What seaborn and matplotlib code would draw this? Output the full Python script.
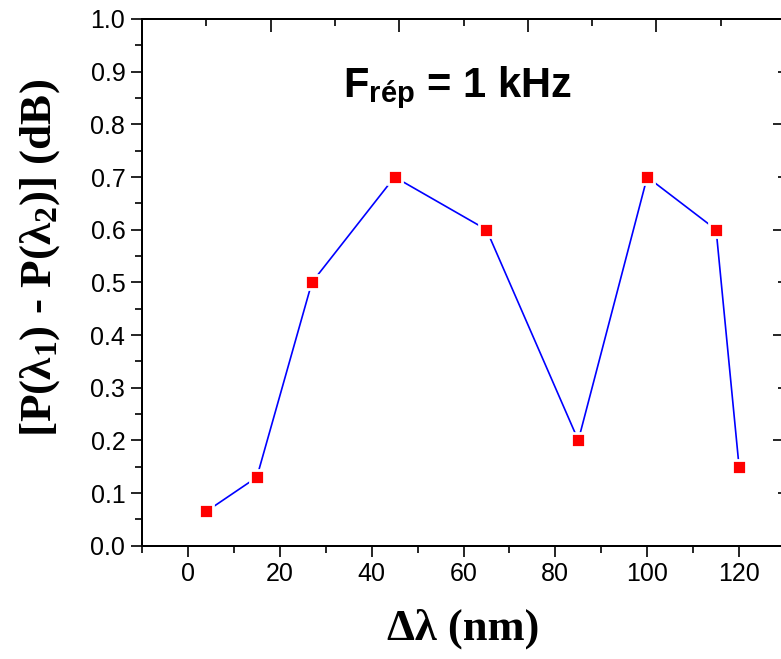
import matplotlib
matplotlib.use("Agg")
import matplotlib.pyplot as plt
from matplotlib.ticker import MultipleLocator, FormatStrFormatter
import seaborn as sns
import pandas as pd

# Data
delta_lambda = [4, 15, 27, 45, 65, 85, 100, 115, 120]
power_diff = [0.065, 0.13, 0.50, 0.70, 0.60, 0.20, 0.70, 0.60, 0.15]

x_label = "Δλ (nm)"
y_label = r"[P($\mathrm{\lambda_1}$) - P($\mathrm{\lambda_2}$)] (dB)"
title_text = r"F$_{\mathsf{rép}}$ = 1 kHz"

df = pd.DataFrame({"dl": delta_lambda, "dp": power_diff})

sns.set_theme(style="ticks")
plt.rcParams["font.family"] = ["Liberation Sans", "DejaVu Sans"]
plt.rcParams["mathtext.fontset"] = "custom"
plt.rcParams["mathtext.rm"] = "Liberation Serif:bold"
plt.rcParams["mathtext.sf"] = "Liberation Sans:bold"
plt.rcParams["mathtext.bf"] = "Liberation Serif:bold"
plt.rcParams["mathtext.it"] = "Liberation Serif:bold"
for k in ["text.color", "axes.labelcolor", "xtick.color", "ytick.color", "axes.edgecolor"]:
    plt.rcParams[k] = "black"

fig = plt.figure(figsize=(7.81, 6.59), dpi=100)
ax = fig.add_axes([142 / 781, (659 - 545.7) / 659, (785 - 142) / 781, (545.7 - 19) / 659])

sns.lineplot(data=df, x="dl", y="dp", ax=ax, color="#0000ff", linewidth=1.2,
             marker="s", markersize=9.9, markerfacecolor="#ff0000",
             markeredgecolor="white", markeredgewidth=2, sort=False)

ax.set_xlim(-10, 130)
ax.set_ylim(0, 1.0)
ax.xaxis.set_major_locator(MultipleLocator(20))
ax.xaxis.set_minor_locator(MultipleLocator(10))
ax.yaxis.set_major_locator(MultipleLocator(0.1))
ax.yaxis.set_minor_locator(MultipleLocator(0.05))
ax.yaxis.set_major_formatter(FormatStrFormatter("%.1f"))
ax.tick_params(which="major", direction="out", length=8, width=1.2, labelsize=18,
               colors="black", pad=4)
ax.tick_params(which="minor", direction="out", length=5, width=1.2, colors="black")
for s in ax.spines.values():
    s.set_linewidth(1.3)
    s.set_color("black")

ax.set_xlabel(x_label, fontsize=32, fontweight="bold", family="Liberation Serif", labelpad=16)
ax.set_ylabel(y_label, fontsize=32.5, fontweight="bold", family="Liberation Serif")
ax.yaxis.set_label_coords(-0.124, 0.546)

ax.text(0.49, 0.852, title_text, transform=ax.transAxes, fontsize=30,
        fontweight="bold", ha="center", va="baseline")

# Top and right axes with inward ticks (no labels)
axt = ax.twiny()
axt.set_xlim(0, 5)
axt.xaxis.set_major_locator(MultipleLocator(1))
axt.xaxis.set_minor_locator(MultipleLocator(0.5))
axt.tick_params(which="major", direction="in", length=9, width=1.2, labeltop=False)
axt.tick_params(which="minor", direction="in", length=5, width=1.2)

axr = ax.twinx()
axr.set_ylim(0, 1.0)
axr.yaxis.set_major_locator(MultipleLocator(0.2))
axr.yaxis.set_minor_locator(MultipleLocator(0.1))
axr.tick_params(which="major", direction="in", length=9, width=1.2, labelright=False)
axr.tick_params(which="minor", direction="in", length=5, width=1.2)
for a in (axt, axr):
    for s in a.spines.values():
        s.set_linewidth(1.3)
        s.set_color("black")

fig.savefig("out.png", dpi=100)
